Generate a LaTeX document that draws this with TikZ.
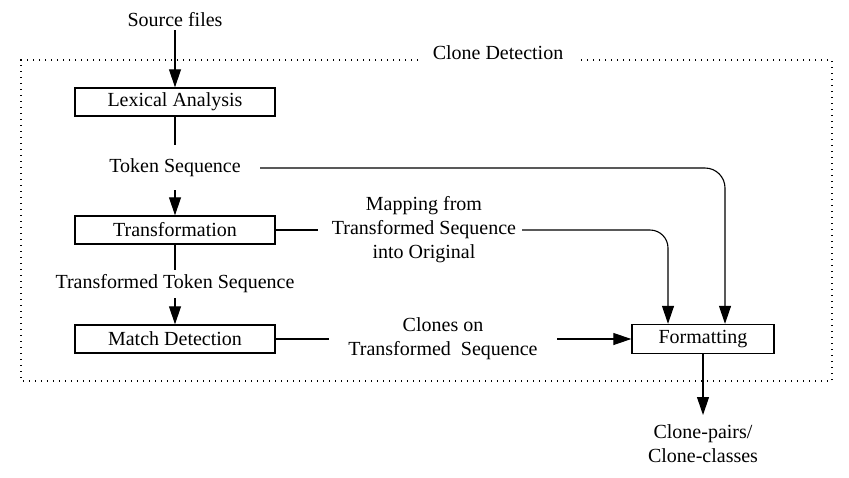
\documentclass[tikz,border=0pt]{standalone}
\usepackage{fontspec}
\setmainfont{Liberation Serif}
\usetikzlibrary{arrows.meta}
\begin{document}
\begin{tikzpicture}[x=0.5pt,y=-0.5pt,
  every node/.style={font=\fontsize{10}{12}\selectfont, inner sep=0pt},
  procbox/.style={draw, line width=0.7pt, minimum width=100pt, minimum height=14pt},
  lbl/.style={align=center},
  conn/.style={line width=0.55pt},
  arr/.style={conn, -{Triangle[length=9pt,width=6pt]}},
  frame/.style={line width=0.75pt, dash pattern=on 0.7pt off 2.3pt}]
\useasboundingbox (0,0) rectangle (849,477);
% frame
\node[lbl] (cd) at (498,53) {Clone Detection};
\draw[frame] (418,60) -- (21,60) -- (21,381) -- (832,381) -- (832,60) -- (580,60);
% nodes
\node[lbl] (src) at (175,20) {Source files};
\node[procbox] (lex) at (175,102) {Lexical Analysis};
\node[lbl] (tok) at (175,168) {Token Sequence};
\node[procbox] (trans) at (175,230) {Transformation};
\node[lbl] (ttok) at (175,284) {Transformed Token Sequence};
\node[procbox] (match) at (175,339) {Match Detection};
\node[lbl] (map) at (424,230) {Mapping from\\Transformed Sequence\\into Original};
\node[lbl] (clo) at (443,339) {Clones on\\Transformed~ Sequence};
\node[draw, line width=0.7pt, minimum width=71pt, minimum height=14.5pt] (fmt) at (703,339) {Formatting};
\node[lbl] (out) at (703,444) {Clone-pairs/\\Clone-classes};
% helper coordinates
\coordinate (a1) at (175,30);
\coordinate (a2) at (175,145);
\coordinate (a3) at (175,190);
\coordinate (a4) at (175,270);
\coordinate (a5) at (175,298);
\coordinate (t1) at (260,168);
\coordinate (t2) at (725,168);
\coordinate (m1) at (318,230);
\coordinate (m2) at (522,230);
\coordinate (m3) at (668,230);
\coordinate (c1) at (329,339);
\coordinate (c2) at (557,339);
\coordinate (o1) at (703,415);
% connectors
\draw[arr] (a1) -- (lex.north);
\draw[conn] (lex.south) -- (a2);
\draw[arr] (a3) -- (trans.north);
\draw[conn] (trans.south) -- (a4);
\draw[arr] (a5) -- (match.north);
\draw[arr, rounded corners=10pt] (t1) -- (t2) -- (t2 |- fmt.north);
\draw[conn] (trans.east) -- (m1);
\draw[arr, rounded corners=9pt] (m2) -- (m3) -- (m3 |- fmt.north);
\draw[conn] (match.east) -- (c1);
\draw[arr] (c2) -- (fmt.west);
\draw[arr] (fmt.south) -- (o1);
\end{tikzpicture}
\end{document}
